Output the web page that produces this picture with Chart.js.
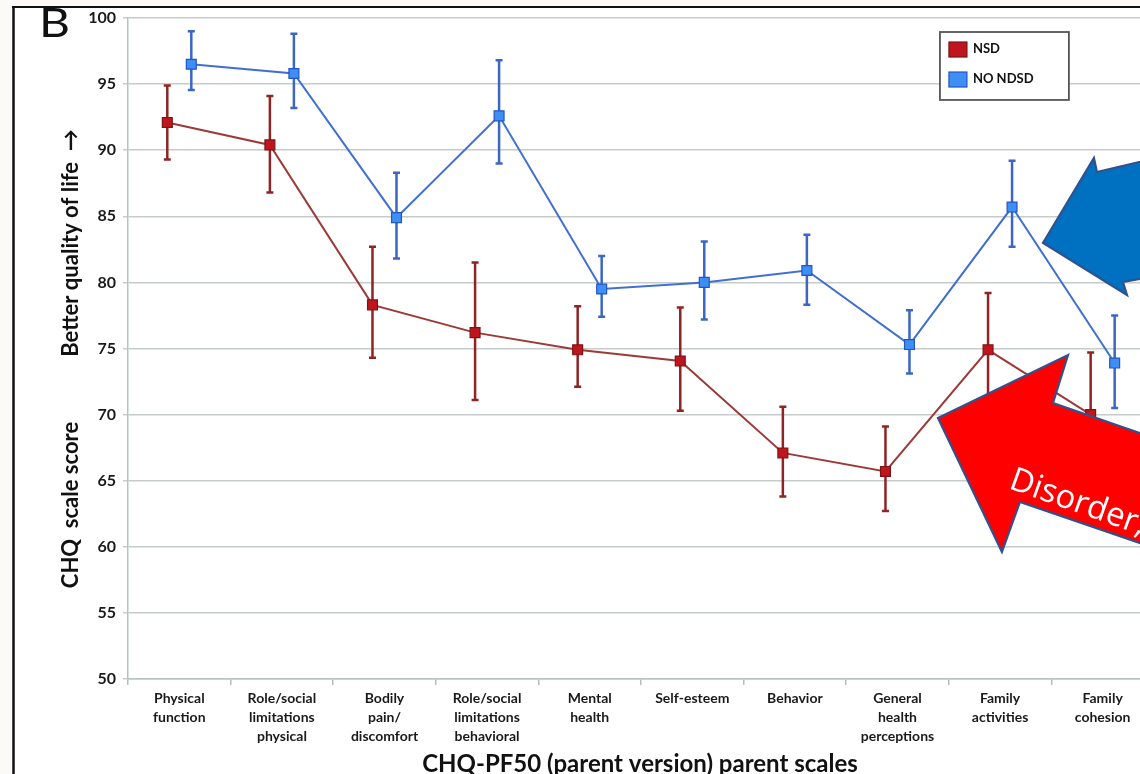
<!DOCTYPE html>
<html><head><meta charset="utf-8">
<script src="https://cdn.jsdelivr.net/npm/chart.js@4"></script>
<style>html,body{margin:0;padding:0;background:#fff;overflow:hidden}#wrap{width:1140px;height:774px;position:relative}</style>
</head><body><div id="wrap"><canvas id="c" width="1140" height="774"></canvas></div>
<script>
// ---- data ----
const categories = [["Physical","function"],["Role/social","limitations","physical"],["Bodily","pain/","discomfort"],["Role/social","limitations","behavioral"],["Mental","health"],["Self-esteem"],["Behavior"],["General","health","perceptions"],["Family","activities"],["Family","cohesion"]];
const seriesNames = ["NSD", "NO NDSD"];
const nsdMean  = [92.1, 90.4, 78.3, 76.2, 74.9, 74.05, 67.1, 65.7, 74.9, 70.0];
const nsdLow   = [89.3, 86.8, 74.3, 71.1, 72.1, 70.3, 63.8, 62.7, 70.5, 65.5];
const nsdHigh  = [94.9, 94.1, 82.7, 81.5, 78.2, 78.1, 70.6, 69.1, 79.2, 74.7];
const ndsdMean = [96.5, 95.8, 84.9, 92.6, 79.5, 80.0, 80.9, 75.3, 85.7, 73.9];
const ndsdLow  = [94.55, 93.2, 81.8, 89.0, 77.4, 77.2, 78.3, 73.1, 82.7, 70.5];
const ndsdHigh = [99.0, 98.8, 88.3, 96.8, 82.0, 83.1, 83.6, 77.9, 89.2, 77.5];
const yTicks = [50, 55, 60, 65, 70, 75, 80, 85, 90, 95, 100];
const yTitleTop = "Better quality of life  \u2192";
const yTitleBottom = "CHQ  scale score";
const xTitle = "CHQ-PF50 (parent version) parent scales";
const panelLabel = "B";
const arrowText = "Disorder,";

// ---- annotation geometry in data units (x: category index, y: score) ----
const blueArrow = [[8.418,82.98],[8.915,89.41],[8.944,88.35],[9.60,89.55],[9.60,80.6],[9.198,80.03],[9.237,79.05]];
const redArrow  = [[7.395,69.74],[8.662,74.51],[8.516,70.88],[9.70,67.7],[9.70,59.4],[8.194,63.39],[8.018,59.61]];
const arrowTextPos = [8.075, 64.45];
const legendBox = [7.414, 98.94, 8.671, 93.80];

const GROUP = 0.117;
const FONT = "Lato, 'Open Sans', sans-serif";

const decor = {
  id: 'decor',
  beforeDraw(chart) {
    const ctx = chart.ctx;
    ctx.save();
    ctx.fillStyle = '#fff';
    ctx.fillRect(0, 0, chart.width, chart.height);
    ctx.fillStyle = '#fbfaf6';
    ctx.fillRect(0, 0, 12, chart.height);
    ctx.fillRect(0, 0, chart.width, 6);
    ctx.strokeStyle = '#111';
    ctx.lineWidth = 2;
    ctx.beginPath(); ctx.moveTo(12, 7); ctx.lineTo(chart.width, 7); ctx.stroke();
    ctx.lineWidth = 2.5;
    ctx.beginPath(); ctx.moveTo(13.5, 7); ctx.lineTo(13.5, chart.height); ctx.stroke();
    ctx.restore();
  },
  beforeDatasetsDraw(chart) {
    const ctx = chart.ctx, ys = chart.scales.y;
    ctx.save();
    chart.data.datasets.forEach((ds, di) => {
      const meta = chart.getDatasetMeta(di);
      ctx.strokeStyle = ds.errColor;
      ctx.lineWidth = 2.5;
      meta.data.forEach((pt, j) => {
        const x = pt.x, y1 = ys.getPixelForValue(ds.errLow[j]), y2 = ys.getPixelForValue(ds.errHigh[j]);
        ctx.beginPath();
        ctx.moveTo(x, y1); ctx.lineTo(x, y2);
        ctx.moveTo(x - 3.5, y1); ctx.lineTo(x + 3.5, y1);
        ctx.moveTo(x - 3.5, y2); ctx.lineTo(x + 3.5, y2);
        ctx.stroke();
      });
    });
    ctx.restore();
  },
  afterDraw(chart) {
    const ctx = chart.ctx, xs = chart.scales.x, ys = chart.scales.y;
    const P = (p) => [xs.getPixelForValue(p[0]), ys.getPixelForValue(p[1])];
    ctx.save();
    // legend
    const [lx1, ly1] = P([legendBox[0], legendBox[1]]);
    const [lx2, ly2] = P([legendBox[2], legendBox[3]]);
    ctx.fillStyle = '#fff';
    ctx.fillRect(lx1, ly1, lx2 - lx1, ly2 - ly1);
    ctx.strokeStyle = '#555';
    ctx.lineWidth = 1.8;
    ctx.strokeRect(lx1, ly1, lx2 - lx1, ly2 - ly1);
    chart.data.datasets.forEach((ds, i) => {
      const sy = ly1 + 10 + i * 30;
      ctx.fillStyle = ds.pointBackgroundColor;
      ctx.strokeStyle = ds.pointBorderColor;
      ctx.lineWidth = 1.2;
      ctx.fillRect(lx1 + 9, sy, 18, 15);
      ctx.strokeRect(lx1 + 9, sy, 18, 15);
      ctx.fillStyle = '#111';
      ctx.font = "bold 13px " + FONT;
      ctx.textBaseline = 'middle';
      ctx.textAlign = 'left';
      ctx.fillText(ds.label, lx1 + 33, sy + 7);
    });
    // arrows
    const drawPoly = (pts, fill) => {
      ctx.beginPath();
      pts.forEach((p, k) => { const q = P(p); if (k === 0) ctx.moveTo(q[0], q[1]); else ctx.lineTo(q[0], q[1]); });
      ctx.closePath();
      ctx.fillStyle = fill; ctx.fill();
      ctx.strokeStyle = '#2f528f'; ctx.lineWidth = 2.2; ctx.lineJoin = 'miter'; ctx.stroke();
    };
    drawPoly(blueArrow, '#0070c0');
    drawPoly(redArrow, '#ff0000');
    const tp = P(arrowTextPos);
    ctx.save();
    ctx.translate(tp[0], tp[1]);
    ctx.rotate(19.5 * Math.PI / 180);
    ctx.fillStyle = '#fff';
    ctx.font = "33px 'Open Sans', sans-serif";
    ctx.textAlign = 'left'; ctx.textBaseline = 'alphabetic';
    ctx.fillText(arrowText, 0, 0);
    ctx.restore();
    // panel label
    ctx.save();
    ctx.fillStyle = '#111';
    ctx.font = "40px " + FONT;
    ctx.textAlign = 'left'; ctx.textBaseline = 'alphabetic';
    ctx.translate(39, 37); ctx.scale(1.2, 1);
    ctx.fillText(panelLabel, 0, 0);
    ctx.restore();
    // y titles
    ctx.fillStyle = '#111';
    ctx.font = "bold 22px " + FONT;
    ctx.textAlign = 'center'; ctx.textBaseline = 'middle';
    ctx.save(); ctx.translate(71, 243); ctx.rotate(-Math.PI / 2); ctx.fillText(yTitleTop, 0, 0); ctx.restore();
    ctx.save(); ctx.translate(71, 505); ctx.rotate(-Math.PI / 2); ctx.fillText(yTitleBottom, 0, 0); ctx.restore();
    // x title
    ctx.font = "bold 24px " + FONT;
    ctx.textAlign = 'center'; ctx.textBaseline = 'alphabetic';
    ctx.fillText(xTitle, 640, 772);
    ctx.restore();
  }
};

new Chart(document.getElementById('c'), {
  type: 'line',
  data: {
    datasets: [
      {
        label: seriesNames[0],
        data: nsdMean.map((v, i) => ({ x: i - GROUP, y: v })),
        errLow: nsdLow, errHigh: nsdHigh, errColor: '#8e2424',
        borderColor: '#9c3a38', borderWidth: 2,
        pointStyle: 'rect', pointRadius: 7, pointHoverRadius: 7,
        pointBackgroundColor: '#c0141e', pointBorderColor: '#7d1414', pointBorderWidth: 1.2,
        tension: 0
      },
      {
        label: seriesNames[1],
        data: ndsdMean.map((v, i) => ({ x: i + GROUP, y: v })),
        errLow: ndsdLow, errHigh: ndsdHigh, errColor: '#3b66c4',
        borderColor: '#3f6fd0', borderWidth: 2,
        pointStyle: 'rect', pointRadius: 7, pointHoverRadius: 7,
        pointBackgroundColor: '#3d8ff5', pointBorderColor: '#2256c0', pointBorderWidth: 1.2,
        tension: 0
      }
    ]
  },
  options: {
    responsive: false,
    animation: false,
    layout: { autoPadding: false, padding: { top: 18, left: 0, right: 0, bottom: 0 } },
    plugins: { legend: { display: false }, tooltip: { enabled: false } },
    scales: {
      x: {
        type: 'linear',
        min: -0.5,
        max: 9.364,
        afterBuildTicks: (s) => { s.ticks = categories.map((_, i) => ({ value: i })); },
        afterFit: (s) => { s.height = 95; s.paddingRight = 0; s.paddingLeft = 0; },
        ticks: {
          autoSkip: false, maxRotation: 0, minRotation: 0,
          callback: (v) => categories[v] || '',
          font: { family: FONT, weight: 'bold', size: 14, lineHeight: 1.36 },
          color: '#1a1a1a', padding: 4
        },
        grid: { display: true, drawOnChartArea: false, offset: true, tickLength: 6, color: '#b4bcbc', lineWidth: 1.5 },
        border: { display: true, color: '#b8c2c2', width: 1.5 }
      },
      y: {
        min: 50, max: 100,
        afterBuildTicks: (s) => { s.ticks = yTicks.map(v => ({ value: v })); },
        afterFit: (s) => { s.width = 128; },
        ticks: { font: { family: FONT, weight: 'bold', size: 16 }, color: '#1a1a1a', padding: 7 },
        grid: { color: '#c6cccc', lineWidth: 1.5, tickLength: 5 },
        border: { display: true, color: '#b6c3c3', width: 1.5 }
      }
    }
  },
  plugins: [decor]
});
</script>
</body></html>
